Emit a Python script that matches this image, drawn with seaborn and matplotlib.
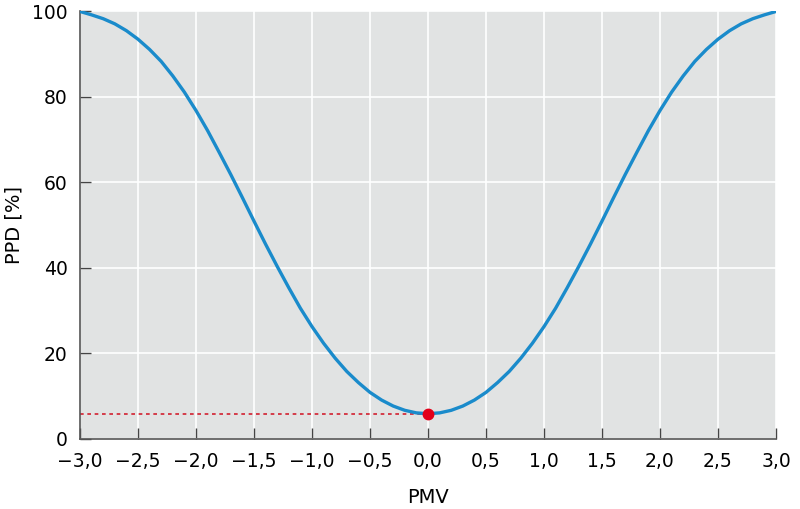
import numpy as np
import matplotlib
matplotlib.use("Agg")
import matplotlib.pyplot as plt
import seaborn as sns

# PMV values and PPD [%]
pmv = [-3.0, -2.9, -2.8, -2.7, -2.6, -2.5, -2.4, -2.3, -2.2, -2.1,
       -2.0, -1.9, -1.8, -1.7, -1.6, -1.5, -1.4, -1.3, -1.2, -1.1,
       -1.0, -0.9, -0.8, -0.7, -0.6, -0.5, -0.4, -0.3, -0.2, -0.1,
       0.0,
       0.1, 0.2, 0.3, 0.4, 0.5, 0.6, 0.7, 0.8, 0.9, 1.0,
       1.1, 1.2, 1.3, 1.4, 1.5, 1.6, 1.7, 1.8, 1.9, 2.0,
       2.1, 2.2, 2.3, 2.4, 2.5, 2.6, 2.7, 2.8, 2.9, 3.0]
ppd = [100.0, 99.2, 98.3, 97.1, 95.5, 93.5, 91.1, 88.3, 84.9, 81.1,
       76.8, 72.1, 67.0, 61.8, 56.4, 50.9, 45.5, 40.3, 35.3, 30.5,
       26.2, 22.3, 18.8, 15.7, 13.1, 10.8, 9.0, 7.6, 6.6, 6.0,
       5.8,
       6.0, 6.6, 7.6, 9.0, 10.8, 13.1, 15.7, 18.8, 22.3, 26.2,
       30.5, 35.3, 40.3, 45.5, 50.9, 56.4, 61.8, 67.0, 72.1, 76.8,
       81.1, 84.9, 88.3, 91.1, 93.5, 95.5, 97.1, 98.3, 99.2, 100.0]

opt_pmv = 0.0
opt_ppd = 5.8

x_ticks = [-3.0, -2.5, -2.0, -1.5, -1.0, -0.5, 0.0, 0.5, 1.0, 1.5, 2.0, 2.5, 3.0]
x_labels = ["\u22123,0", "\u22122,5", "\u22122,0", "\u22121,5", "\u22121,0", "\u22120,5",
            "0,0", "0,5", "1,0", "1,5", "2,0", "2,5", "3,0"]
y_ticks = [0, 20, 40, 60, 80, 100]

sns.set_style("darkgrid", {
    "axes.facecolor": "#e1e3e3",
    "grid.color": "white",
    "axes.edgecolor": "#555555",
})
plt.rcParams["font.family"] = ["DejaVu Sans"]

fig = plt.figure(figsize=(8, 5.09), dpi=100)
ax = fig.add_axes([0.1, 0.1385, 0.87, 0.839])

# reference dotted line to the optimum
ax.plot([-3.0, opt_pmv], [opt_ppd, opt_ppd], color="#d2202f", linestyle=(0, (2.2, 2.2)),
        linewidth=1.2, zorder=2)
sns.lineplot(x=pmv, y=ppd, ax=ax, color="#1a8bcb", linewidth=2.4, zorder=3)
ax.plot([opt_pmv], [opt_ppd], "o", color="#e2001a", markersize=7.5, zorder=4)

ax.set_xlim(-3, 3)
ax.set_ylim(0, 100)
ax.set_xticks(x_ticks)
ax.set_xticklabels(x_labels)
ax.set_yticks(y_ticks)
ax.grid(True, color="white", linewidth=1.2)

for side in ["top", "right"]:
    ax.spines[side].set_visible(False)
for side in ["left", "bottom"]:
    ax.spines[side].set_visible(True)
    ax.spines[side].set_color("#555555")
    ax.spines[side].set_linewidth(1.2)

ax.tick_params(axis="both", direction="in", length=8, width=1, color="#444444",
               labelsize=13.5, labelcolor="black", bottom=True, left=True)
ax.tick_params(axis="x", pad=10)
ax.tick_params(axis="y", pad=9)

ax.set_xlabel("PMV", fontsize=14, labelpad=12, color="black")
ax.set_ylabel("PPD [%]", fontsize=14, labelpad=6, color="black")

fig.savefig("out.png", dpi=100)
